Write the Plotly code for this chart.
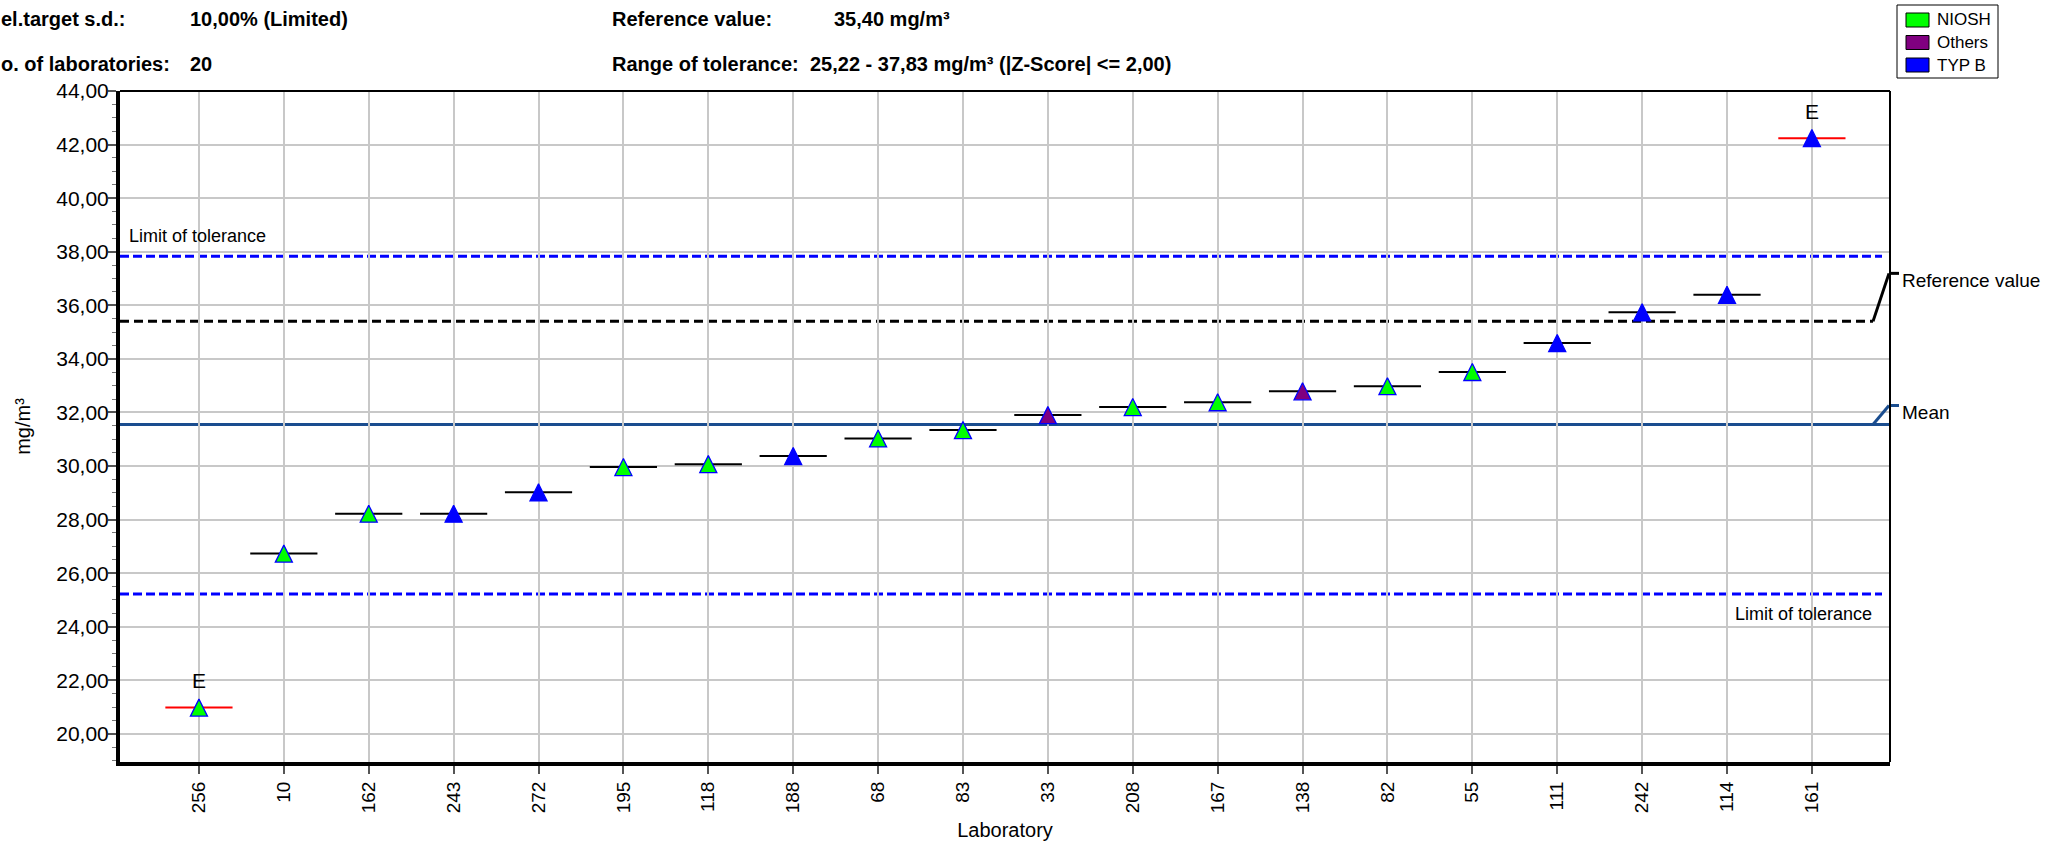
import plotly.graph_objects as go

# ---------------- data ----------------
laboratories = ["256", "10", "162", "243", "272", "195", "118", "188", "68", "83",
                "33", "208", "167", "138", "82", "55", "111", "242", "114", "161"]
values = [20.98, 26.73, 28.22, 28.22, 29.02, 29.96, 30.07, 30.37, 31.03, 31.34,
          31.90, 32.20, 32.38, 32.79, 32.98, 33.51, 34.59, 35.74, 36.39, 42.24]
methods = ["NIOSH", "NIOSH", "NIOSH", "TYP B", "TYP B", "NIOSH", "NIOSH", "TYP B", "NIOSH", "NIOSH",
           "Others", "NIOSH", "NIOSH", "Others", "NIOSH", "NIOSH", "TYP B", "TYP B", "TYP B", "TYP B"]
flags = ["E", "", "", "", "", "", "", "", "", "",
         "", "", "", "", "", "", "", "", "", "E"]

method_names = ["NIOSH", "Others", "TYP B"]
method_colors = ["#00FF00", "#800080", "#0000FF"]

reference_value = 35.40
tolerance_low = 25.22
tolerance_high = 37.83
mean_value = 31.55

header_rows = [
    ("el.target s.d.:", "10,00% (Limited)", "Reference value:", "35,40 mg/m³"),
    ("o. of laboratories:", "20", "Range of tolerance:", "25,22 - 37,83 mg/m³ (|Z-Score| <= 2,00)"),
]

# ---------------- layout geometry (pixels) ----------------
W, H = 2067, 845
L, R, T, B = 120, 1890, 91, 762
y_lo, y_hi = 18.95, 44.0
x_lo, x_hi = -0.93, 19.92
ppu = (B - T) / (y_hi - y_lo)  # pixels per unit on y


def px_x(p):
    return (p - L) / (R - L)


def px_y(p):
    return (B - p) / (B - T)


FONT = "Liberation Sans, Arial, sans-serif"
tri_size = 17
tri_shift = (tri_size / 2) / ppu

fig = go.Figure()

# horizontal value bars
fig.add_trace(go.Scatter(
    x=laboratories, y=values, mode="markers",
    marker=dict(symbol="line-ew", size=48,
                line=dict(width=2, color=["#FF0000" if f else "#000000" for f in flags])),
    showlegend=False, hoverinfo="skip",
))

# triangles per method (drawn on shifted overlay axis so they are centred on the value)
for name, col in zip(method_names, method_colors):
    xs = [l for l, m in zip(laboratories, methods) if m == name]
    ys = [v for v, m in zip(values, methods) if m == name]
    fig.add_trace(go.Scatter(
        x=xs, y=ys, mode="markers", yaxis="y2", name=name,
        marker=dict(symbol="arrow-up", size=tri_size, color=col,
                    line=dict(width=1.3, color="#0000FF")),
        showlegend=False,
    ))

shapes = []
# tolerance lines
for v in (tolerance_high, tolerance_low):
    shapes.append(dict(type="line", xref="paper", yref="y", x0=0, x1=px_x(1882), y0=v, y1=v,
                       line=dict(color="#0000FF", width=3, dash="9px,4px"), layer="between"))
# reference value line
shapes.append(dict(type="line", xref="paper", yref="y", x0=0, x1=px_x(1873),
                   y0=reference_value, y1=reference_value,
                   line=dict(color="#000000", width=3, dash="9px,5px"), layer="between"))
# mean line
mean_col = "#1A4D8F"
shapes.append(dict(type="line", xref="paper", yref="y", x0=0, x1=1,
                   y0=mean_value, y1=mean_value,
                   line=dict(color=mean_col, width=3), layer="between"))
# connectors
ref_top = reference_value + 48 / ppu
shapes.append(dict(type="line", xref="paper", yref="y", x0=px_x(1873), x1=px_x(1889),
                   y0=reference_value, y1=ref_top, line=dict(color="#000000", width=3)))
shapes.append(dict(type="line", xref="paper", yref="y", x0=px_x(1889), x1=px_x(1899),
                   y0=ref_top, y1=ref_top, line=dict(color="#000000", width=3)))
mean_top = mean_value + 19 / ppu
shapes.append(dict(type="line", xref="paper", yref="y", x0=px_x(1873), x1=px_x(1889),
                   y0=mean_value, y1=mean_top, line=dict(color=mean_col, width=3)))
shapes.append(dict(type="line", xref="paper", yref="y", x0=px_x(1889), x1=px_x(1899),
                   y0=mean_top, y1=mean_top, line=dict(color=mean_col, width=3)))
# top and right frame
shapes.append(dict(type="line", xref="paper", yref="paper", x0=0, x1=1, y0=1, y1=1,
                   line=dict(color="#000000", width=2)))
shapes.append(dict(type="line", xref="paper", yref="paper", x0=1, x1=1, y0=0, y1=1,
                   line=dict(color="#000000", width=2)))

annotations = []
# legend box
shapes.append(dict(type="rect", xref="paper", yref="paper",
                   x0=px_x(1897), x1=px_x(1998), y0=px_y(78), y1=px_y(5),
                   line=dict(color="#000000", width=1), fillcolor="white"))
for i, (name, col) in enumerate(zip(method_names, method_colors)):
    cy = 20 + i * 22.5
    shapes.append(dict(type="rect", xref="paper", yref="paper",
                       x0=px_x(1906), x1=px_x(1929), y0=px_y(cy + 7), y1=px_y(cy - 7),
                       line=dict(color="#000000", width=1), fillcolor=col))
    annotations.append(dict(x=px_x(1935), y=px_y(cy), xref="paper", yref="paper",
                            text=name, showarrow=False, xanchor="left", yanchor="middle",
                            font=dict(size=17, color="black", family=FONT)))

# E markers (category index positions)
for i, (v, f) in enumerate(zip(values, flags)):
    if f:
        annotations.append(dict(x=i, y=v, xref="x", yref="y", text=f, showarrow=False,
                                yshift=27, xanchor="center", yanchor="middle",
                                font=dict(size=21, color="black", family=FONT)))

# limit labels
annotations.append(dict(x=px_x(127), y=tolerance_high, xref="paper", yref="y", yshift=20,
                        text="Limit of tolerance", showarrow=False, xanchor="left", yanchor="middle",
                        font=dict(size=18, color="black", family=FONT)))
annotations.append(dict(x=px_x(1874), y=tolerance_low, xref="paper", yref="y", yshift=-20,
                        text="Limit of tolerance", showarrow=False, xanchor="right", yanchor="middle",
                        font=dict(size=18, color="black", family=FONT)))
annotations.append(dict(x=px_x(1900), y=reference_value + 41 / ppu, xref="paper", yref="y",
                        text="Reference value", showarrow=False, xanchor="left", yanchor="middle",
                        font=dict(size=19, color="black", family=FONT)))
annotations.append(dict(x=px_x(1900), y=mean_value + 12 / ppu, xref="paper", yref="y",
                        text="Mean", showarrow=False, xanchor="left", yanchor="middle",
                        font=dict(size=19, color="black", family=FONT)))

# header
for r, (a, b, c, d) in enumerate(header_rows):
    cy = [19, 64][r]
    dx = [832, 808][r]
    for txt, xp in ((a, -1), (b, 188), (c, 610), (d, dx)):
        annotations.append(dict(x=px_x(xp), y=px_y(cy), xref="paper", yref="paper",
                                text="<b>" + txt + "</b>", showarrow=False,
                                xanchor="left", yanchor="middle",
                                font=dict(size=20, color="black", family=FONT)))

fig.update_layout(
    width=W, height=H,
    margin=dict(l=L, r=W - R, t=T, b=H - B, autoexpand=False),
    paper_bgcolor="white", plot_bgcolor="white",
    separators=",.",
    showlegend=False,
    font=dict(family=FONT, color="black"),
    xaxis=dict(
        type="category", categoryorder="array", categoryarray=laboratories,
        range=[x_lo, x_hi], showgrid=True, gridcolor="#C8C8C8", gridwidth=2,
        showline=True, linecolor="black", linewidth=4, zeroline=False,
        ticks="outside", ticklen=8, tickwidth=1.5, tickcolor="#555555",
        tickangle=-90, tickfont=dict(size=19, family=FONT, color="black"),
        title=dict(text="Laboratory", font=dict(size=20, family=FONT, color="black"), standoff=12),
        automargin=False, fixedrange=True,
    ),
    yaxis=dict(
        range=[y_lo, y_hi], tickmode="linear", tick0=0, dtick=2, tickformat=".2f",
        showgrid=True, gridcolor="#C8C8C8", gridwidth=2,
        showline=True, linecolor="black", linewidth=4, zeroline=False,
        ticks="outside", ticklen=8, tickwidth=1.5, tickcolor="#555555",
        minor=dict(dtick=0.5, tick0=0, ticks="outside", ticklen=4, tickcolor="#777777",
                   tickwidth=1.2, showgrid=False),
        tickfont=dict(size=21, family=FONT, color="black"),
        ticklabelstandoff=-5,
        title=dict(text="mg/m³", font=dict(size=20, family=FONT, color="black"), standoff=21),
        automargin=False, fixedrange=True,
    ),
    yaxis2=dict(range=[y_lo - tri_shift, y_hi - tri_shift], overlaying="y", visible=False,
                fixedrange=True),
    shapes=shapes,
    annotations=annotations,
)

fig.write_html("out.html")
